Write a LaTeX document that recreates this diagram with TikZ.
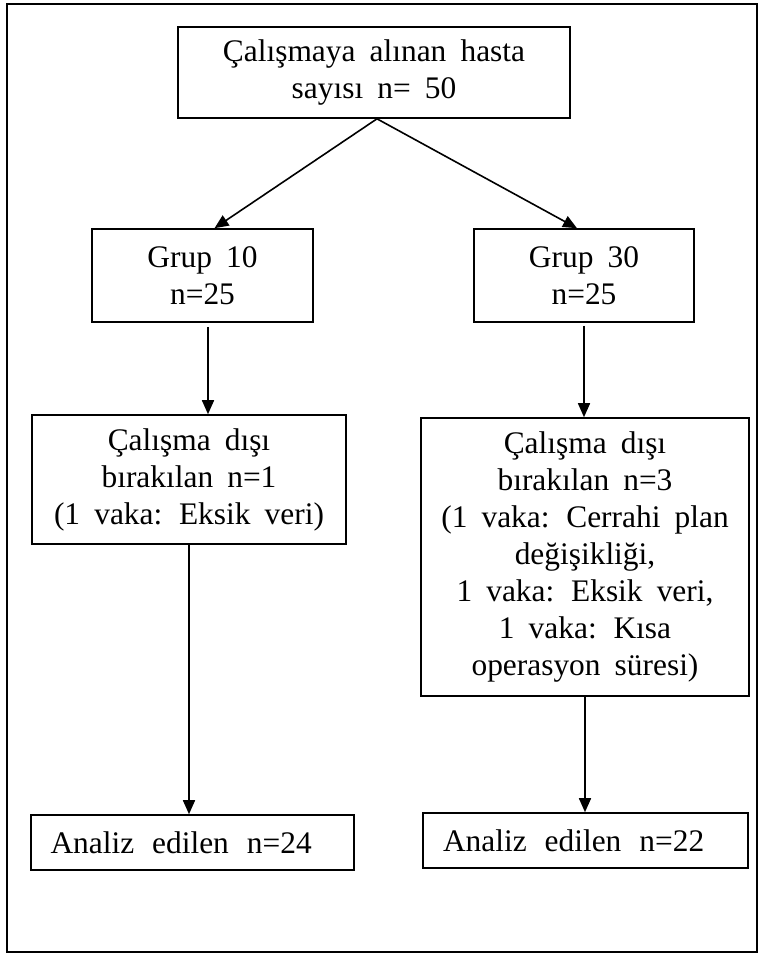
\documentclass[tikz,border=0pt]{standalone}
\usepackage{fontspec}
\setmainfont{Liberation Serif}[WordSpace=1.8]
\usepackage{tikz}
\usetikzlibrary{arrows.meta,positioning,calc}

\begin{document}
\begin{tikzpicture}[x=0.5pt,y=-0.5pt,>={Triangle[length=7pt,width=6pt]},
 font=\fontsize{15.7}{18.5}\selectfont,
 flowbox/.style={draw,line width=0.8pt,inner sep=2pt,align=center},
 resultbox/.style={flowbox,minimum height=27.5pt,align=left,execute at begin node={\spaceskip=9pt\relax}},
 link/.style={->,line width=0.8pt}]
\useasboundingbox (0,0) rectangle (760,954);
\draw[line width=1pt] (7,4) rectangle (757,952);
\node[flowbox,minimum width=196pt,minimum height=45.5pt] (top) at (374,72.5) {Çalışmaya alınan hasta\\sayısı n= 50};
\node[flowbox,minimum width=110.5pt,minimum height=46.5pt] (g10) at (202.5,275.5) {Grup 10\\n=25};
\node[flowbox,minimum width=110pt,minimum height=46.5pt] (g30) at (584,275.5) {Grup 30\\n=25};
\node[flowbox,minimum width=157pt,minimum height=64.5pt] (exL) at (189,479.5) {Çalışma dışı\\bırakılan n=1\\(1 vaka: Eksik veri)};
\node[flowbox,minimum width=164pt,minimum height=139pt] (exR) at (585,557) {Çalışma dışı\\bırakılan n=3\\(1 vaka: Cerrahi plan\\değişikliği,\\1 vaka: Eksik veri,\\1 vaka: Kısa\\operasyon süresi)};
\node[resultbox,minimum width=161.5pt,text width=142pt] (anL) at (192.5,842.5) {Analiz edilen n=24};
\node[resultbox,minimum width=162.5pt,text width=142.5pt] (anR) at (585.5,840.5) {Analiz edilen n=22};
% connectors
\draw[link] ([xshift=1.5pt]top.south) -- ([xshift=6pt]g10.north);
\draw[link] ([xshift=1.5pt]top.south) -- ([xshift=-3.5pt]g30.north);
\draw[link] ([xshift=2.75pt,yshift=-2pt]g10.south) -- ([xshift=2.75pt]g10.south |- exL.north);
\draw[link] ([yshift=-1.5pt]g30.south) -- (g30.south |- exR.north);
\draw[link] (exL.south) -- (exL.south |- anL.north);
\draw[link] (exR.south) -- (exR.south |- anR.north);
\end{tikzpicture}
\end{document}
